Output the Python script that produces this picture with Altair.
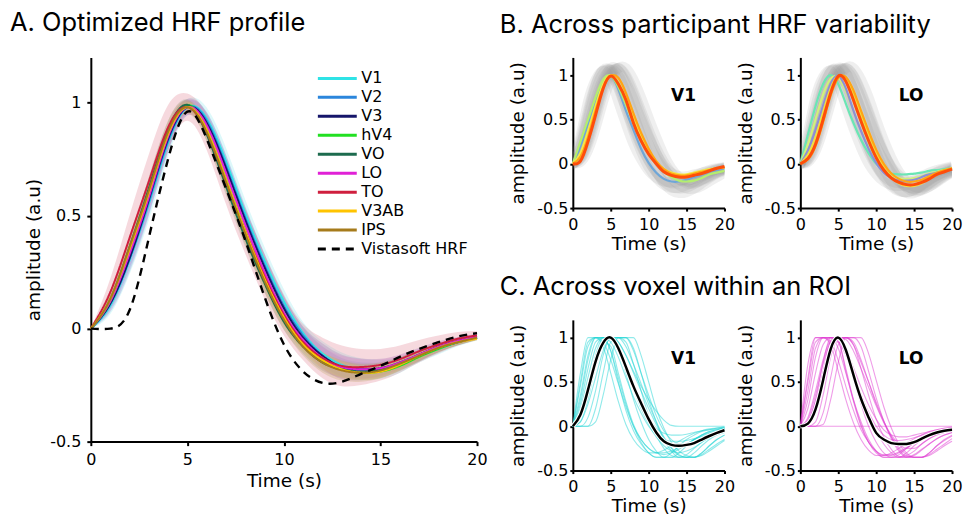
import altair as alt
import pandas as pd

# ---------------- shared time base (s) ----------------
T = list(range(21))
X_TICKS = [0, 5, 10, 15, 20]
Y_TICKS = [-0.5, 0, 0.5, 1]

# ---------------- Panel A : optimized HRF per ROI ----------------
ROI_NAMES = ["V1", "V2", "V3", "hV4", "VO", "LO", "TO", "V3AB", "IPS"]
ROI_COLORS = ["#2fe3e6", "#2b86dc", "#16166a", "#22e022", "#1d6b4e",
              "#e021d6", "#cf1f3e", "#ffc400", "#a67b1b"]
BAND_COLORS = ["#86e6ee", "#7aa8e2", "#8a78c8", "#98e898", "#7aa890",
               "#e890e0", "#e07888", "#f8d870", "#c0a060"]
ROI_SPREAD = [1.2, 0.9, 1.2, 0.8, 0.8, 1.1, 2.0, 0.8, 1.0]
BAND_HW = [0, 0.03, 0.05, 0.06, 0.05, 0.03, 0.04, 0.05, 0.05, 0.05, 0.045,
           0.04, 0.045, 0.045, 0.04, 0.035, 0.03, 0.025, 0.02, 0.015, 0.01]

V1_A = [0, 0.10, 0.30, 0.55, 0.82, 0.98, 0.93, 0.74, 0.51, 0.30, 0.12, -0.02, -0.11, -0.16, -0.18, -0.18, -0.16, -0.12, -0.09, -0.06, -0.04]
V2_A = [0, 0.11, 0.31, 0.56, 0.83, 0.98, 0.92, 0.72, 0.49, 0.28, 0.10, -0.03, -0.12, -0.17, -0.185, -0.18, -0.155, -0.12, -0.085, -0.06, -0.04]
V3_A = [0, 0.11, 0.31, 0.57, 0.84, 0.98, 0.91, 0.71, 0.48, 0.27, 0.09, -0.04, -0.12, -0.17, -0.18, -0.175, -0.15, -0.115, -0.08, -0.055, -0.035]
HV4_A = [0, 0.12, 0.34, 0.60, 0.86, 0.99, 0.88, 0.66, 0.43, 0.22, 0.05, -0.07, -0.14, -0.18, -0.195, -0.19, -0.165, -0.125, -0.09, -0.06, -0.04]
VO_A = [0, 0.13, 0.36, 0.62, 0.88, 0.99, 0.86, 0.63, 0.40, 0.20, 0.03, -0.08, -0.15, -0.18, -0.19, -0.18, -0.155, -0.12, -0.085, -0.06, -0.04]
LO_A = [0, 0.12, 0.33, 0.58, 0.85, 0.98, 0.90, 0.69, 0.46, 0.25, 0.07, -0.05, -0.13, -0.17, -0.18, -0.175, -0.15, -0.115, -0.08, -0.055, -0.035]
TO_A = [0, 0.16, 0.40, 0.65, 0.89, 0.98, 0.87, 0.65, 0.43, 0.23, 0.06, -0.06, -0.13, -0.165, -0.17, -0.16, -0.135, -0.10, -0.07, -0.045, -0.03]
V3AB_A = [0, 0.13, 0.35, 0.60, 0.86, 0.98, 0.88, 0.66, 0.43, 0.22, 0.05, -0.07, -0.14, -0.18, -0.195, -0.19, -0.16, -0.12, -0.085, -0.06, -0.045]
IPS_A = [0, 0.13, 0.36, 0.61, 0.87, 0.98, 0.87, 0.65, 0.42, 0.21, 0.04, -0.08, -0.15, -0.185, -0.195, -0.185, -0.155, -0.12, -0.085, -0.06, -0.04]
ROI_CURVES = [V1_A, V2_A, V3_A, HV4_A, VO_A, LO_A, TO_A, V3AB_A, IPS_A]

VISTA_NAME = "Vistasoft HRF"
VISTA_A = [0, 0.0, 0.08, 0.40, 0.75, 0.96, 0.84, 0.62, 0.39, 0.14, -0.07, -0.19, -0.24, -0.235, -0.20, -0.165, -0.125, -0.09, -0.06, -0.035, -0.02]

# ---------------- Panel B : across participants ----------------
GRAY_V1 = [
    [0, 0.30, 0.70, 0.95, 1.05, 0.95, 0.70, 0.45, 0.22, 0.05, -0.08, -0.16, -0.20, -0.21, -0.20, -0.17, -0.14, -0.10, -0.08, -0.06, -0.05],
    [0, 0.10, 0.35, 0.65, 0.92, 1.08, 1.05, 0.88, 0.65, 0.42, 0.22, 0.06, -0.06, -0.14, -0.18, -0.19, -0.17, -0.14, -0.10, -0.07, -0.05],
    [0, 0.05, 0.22, 0.50, 0.80, 1.00, 1.08, 1.00, 0.82, 0.60, 0.38, 0.18, 0.02, -0.10, -0.18, -0.22, -0.22, -0.19, -0.15, -0.10, -0.07],
    [0, 0.18, 0.50, 0.82, 1.02, 1.06, 0.92, 0.68, 0.44, 0.22, 0.04, -0.10, -0.20, -0.26, -0.28, -0.27, -0.23, -0.18, -0.13, -0.09, -0.06],
    [0, 0.02, 0.15, 0.40, 0.70, 0.95, 1.08, 1.08, 0.95, 0.75, 0.52, 0.30, 0.10, -0.05, -0.15, -0.20, -0.21, -0.18, -0.14, -0.10, -0.07],
    [0, 0.25, 0.60, 0.90, 1.05, 1.02, 0.85, 0.62, 0.40, 0.20, 0.03, -0.10, -0.18, -0.22, -0.22, -0.20, -0.16, -0.12, -0.09, -0.06, -0.04],
    [0, 0.12, 0.40, 0.72, 0.96, 1.06, 1.00, 0.80, 0.56, 0.32, 0.10, -0.08, -0.22, -0.30, -0.33, -0.32, -0.28, -0.22, -0.16, -0.11, -0.08],
    [0, 0.08, 0.30, 0.60, 0.88, 1.05, 1.05, 0.92, 0.72, 0.50, 0.30, 0.12, -0.02, -0.10, -0.14, -0.14, -0.12, -0.10, -0.07, -0.05, -0.04],
    [0, 0.20, 0.55, 0.88, 1.06, 1.05, 0.88, 0.62, 0.36, 0.14, -0.04, -0.16, -0.24, -0.27, -0.27, -0.24, -0.20, -0.15, -0.11, -0.08, -0.06],
    [0, 0.06, 0.26, 0.56, 0.85, 1.02, 1.08, 0.98, 0.78, 0.55, 0.32, 0.12, -0.04, -0.16, -0.24, -0.28, -0.28, -0.25, -0.20, -0.15, -0.10],
]
GRAY_LO = [
    [0, 0.35, 0.75, 0.98, 1.05, 0.90, 0.65, 0.40, 0.18, 0.00, -0.12, -0.20, -0.24, -0.25, -0.24, -0.21, -0.17, -0.13, -0.09, -0.06, -0.04],
    [0, 0.12, 0.38, 0.68, 0.94, 1.08, 1.03, 0.85, 0.62, 0.40, 0.20, 0.04, -0.10, -0.20, -0.26, -0.28, -0.26, -0.22, -0.16, -0.11, -0.07],
    [0, 0.04, 0.20, 0.48, 0.78, 1.00, 1.08, 1.00, 0.82, 0.60, 0.36, 0.14, -0.04, -0.18, -0.27, -0.31, -0.30, -0.26, -0.20, -0.14, -0.09],
    [0, 0.22, 0.55, 0.86, 1.04, 1.04, 0.88, 0.64, 0.40, 0.18, 0.00, -0.14, -0.24, -0.30, -0.32, -0.30, -0.25, -0.19, -0.14, -0.10, -0.07],
    [0, 0.02, 0.14, 0.38, 0.68, 0.94, 1.08, 1.08, 0.95, 0.75, 0.50, 0.27, 0.07, -0.09, -0.20, -0.26, -0.27, -0.24, -0.19, -0.13, -0.09],
    [0, 0.28, 0.65, 0.93, 1.06, 1.00, 0.80, 0.56, 0.33, 0.13, -0.03, -0.14, -0.20, -0.22, -0.21, -0.18, -0.14, -0.10, -0.07, -0.05, -0.03],
    [0, 0.10, 0.36, 0.68, 0.94, 1.06, 1.02, 0.84, 0.60, 0.36, 0.13, -0.06, -0.20, -0.29, -0.33, -0.33, -0.29, -0.23, -0.17, -0.12, -0.08],
    [0, 0.07, 0.28, 0.58, 0.87, 1.05, 1.06, 0.94, 0.74, 0.52, 0.31, 0.12, -0.03, -0.13, -0.18, -0.19, -0.17, -0.14, -0.10, -0.07, -0.05],
    [0, 0.18, 0.50, 0.83, 1.04, 1.06, 0.90, 0.66, 0.40, 0.17, -0.02, -0.16, -0.26, -0.31, -0.32, -0.29, -0.24, -0.18, -0.13, -0.09, -0.06],
    [0, 0.05, 0.24, 0.54, 0.84, 1.02, 1.08, 0.99, 0.80, 0.57, 0.33, 0.12, -0.05, -0.17, -0.25, -0.29, -0.29, -0.26, -0.21, -0.15, -0.10],
]

B_V1_COLORS = ["#6ea6d8", "#b4ee6e", "#f4e84a", "#ffa514", "#ff4d0a"]
B_V1_WIDTHS = [2.2, 2.2, 2.2, 2.2, 3.0]
B_V1_CURVES = [
    [0, 0.20, 0.45, 0.70, 0.92, 0.99, 0.84, 0.60, 0.38, 0.17, 0.01, -0.10, -0.17, -0.20, -0.20, -0.18, -0.15, -0.12, -0.09, -0.07, -0.05],
    [0, 0.25, 0.50, 0.75, 0.95, 0.99, 0.87, 0.67, 0.46, 0.28, 0.12, 0.00, -0.09, -0.15, -0.19, -0.20, -0.19, -0.16, -0.12, -0.10, -0.08],
    [0, 0.12, 0.37, 0.65, 0.90, 1.00, 0.92, 0.74, 0.52, 0.32, 0.15, 0.02, -0.06, -0.10, -0.12, -0.12, -0.10, -0.08, -0.06, -0.05, -0.04],
    [0, 0.08, 0.30, 0.60, 0.86, 0.99, 0.97, 0.80, 0.57, 0.35, 0.17, 0.03, -0.06, -0.11, -0.13, -0.13, -0.11, -0.09, -0.07, -0.05, -0.04],
    [0, 0.03, 0.25, 0.55, 0.85, 0.99, 0.90, 0.72, 0.46, 0.26, 0.11, 0.00, -0.09, -0.13, -0.15, -0.15, -0.13, -0.11, -0.08, -0.05, -0.03],
]
B_LO_COLORS = ["#6ae6b4", "#d2f07a", "#8e8ed6", "#f0e040", "#ffa514", "#ff4d0a"]
B_LO_WIDTHS = [2.2, 2.2, 2.2, 2.2, 2.2, 3.0]
B_LO_CURVES = [
    [0, 0.33, 0.65, 0.90, 1.00, 0.90, 0.68, 0.46, 0.27, 0.12, 0.00, -0.07, -0.11, -0.12, -0.12, -0.11, -0.10, -0.08, -0.07, -0.06, -0.05],
    [0, 0.22, 0.50, 0.78, 0.96, 0.97, 0.82, 0.60, 0.38, 0.19, 0.04, -0.07, -0.13, -0.16, -0.17, -0.16, -0.14, -0.11, -0.09, -0.07, -0.05],
    [0, 0.15, 0.38, 0.65, 0.90, 0.99, 0.85, 0.60, 0.37, 0.17, 0.01, -0.10, -0.16, -0.19, -0.19, -0.18, -0.15, -0.12, -0.10, -0.08, -0.06],
    [0, 0.10, 0.30, 0.58, 0.85, 0.99, 0.95, 0.78, 0.55, 0.32, 0.12, -0.04, -0.15, -0.22, -0.25, -0.25, -0.22, -0.17, -0.12, -0.08, -0.05],
    [0, 0.05, 0.20, 0.47, 0.77, 0.97, 0.98, 0.83, 0.60, 0.37, 0.16, 0.00, -0.11, -0.17, -0.20, -0.20, -0.18, -0.14, -0.10, -0.07, -0.05],
    [0, 0.06, 0.22, 0.50, 0.80, 0.99, 0.93, 0.72, 0.48, 0.26, 0.07, -0.07, -0.16, -0.21, -0.235, -0.235, -0.21, -0.17, -0.12, -0.09, -0.06],
]

# ---------------- Panel C : across voxels ----------------
VOX_V1 = [
    [0, 0.45, 0.90, 1, 1, 0.85, 0.55, 0.25, 0.00, -0.18, -0.30, -0.35, -0.35, -0.35, -0.30, -0.22, -0.15, -0.10, -0.06, -0.04, -0.02],
    [0, 0.60, 1, 1, 1, 1, 0.90, 0.60, 0.30, 0.05, -0.15, -0.28, -0.35, -0.35, -0.35, -0.32, -0.25, -0.18, -0.12, -0.08, -0.05],
    [0, 0, 0, 0.20, 0.60, 0.95, 1, 1, 1, 0.80, 0.50, 0.20, -0.02, -0.18, -0.28, -0.33, -0.35, -0.30, -0.22, -0.15, -0.10],
    [0, 0, 0.10, 0.40, 0.80, 1, 1, 1, 0.85, 0.60, 0.35, 0.12, -0.05, -0.15, -0.20, -0.20, -0.15, -0.10, -0.06, -0.04, -0.02],
    [0, 0.15, 0.45, 0.78, 0.97, 1, 0.88, 0.65, 0.42, 0.20, 0.02, -0.12, -0.22, -0.28, -0.30, -0.28, -0.24, -0.18, -0.13, -0.09, -0.06],
    [0, 0.30, 0.75, 1, 0.90, 0.60, 0.28, 0.02, -0.15, -0.25, -0.30, -0.30, -0.27, -0.22, -0.17, -0.12, -0.08, -0.05, -0.03, -0.02, -0.01],
    [0, 0.10, 0.40, 0.80, 1, 0.85, 0.50, 0.18, -0.05, -0.20, -0.30, -0.35, -0.35, -0.30, -0.22, -0.15, -0.10, -0.06, -0.04, -0.02, -0.01],
    [0, 0.20, 0.55, 0.88, 1, 1, 0.95, 0.80, 0.62, 0.45, 0.30, 0.17, 0.07, 0.01, 0, 0, 0, 0, 0, 0, 0],
    [0, 0.05, 0.25, 0.55, 0.85, 1, 1, 0.90, 0.70, 0.48, 0.25, 0.05, -0.12, -0.25, -0.33, -0.35, -0.35, -0.33, -0.28, -0.22, -0.16],
    [0, 0.50, 0.95, 1, 1, 1, 1, 0.95, 0.70, 0.40, 0.12, -0.10, -0.25, -0.33, -0.35, -0.35, -0.30, -0.22, -0.15, -0.10, -0.07],
    [0, 0.12, 0.42, 0.75, 0.95, 1, 0.90, 0.70, 0.47, 0.27, 0.10, -0.02, -0.08, -0.10, -0.10, -0.09, -0.07, -0.05, -0.04, -0.03, -0.02],
    [0, 0, 0, 0.05, 0.35, 0.75, 1, 1, 0.88, 0.60, 0.30, 0.05, -0.15, -0.28, -0.35, -0.35, -0.35, -0.30, -0.22, -0.15, -0.10],
    [0, 0.35, 0.80, 1, 0.95, 0.75, 0.48, 0.22, 0.00, -0.15, -0.25, -0.30, -0.30, -0.28, -0.24, -0.20, -0.15, -0.11, -0.08, -0.06, -0.04],
    [0, 0.05, 0.30, 0.70, 0.95, 0.90, 0.60, 0.28, 0.02, -0.15, -0.25, -0.30, -0.32, -0.30, -0.26, -0.20, -0.15, -0.10, -0.07, -0.05, -0.03],
    [0, 0.25, 0.65, 0.95, 1, 0.95, 0.78, 0.55, 0.33, 0.15, 0.00, -0.10, -0.15, -0.17, -0.17, -0.16, -0.14, -0.12, -0.10, -0.08, -0.06],
    [0, 0.10, 0.35, 0.68, 0.92, 1, 0.95, 0.80, 0.60, 0.40, 0.20, 0.02, -0.13, -0.24, -0.32, -0.35, -0.35, -0.32, -0.26, -0.20, -0.15],
]
VOX_LO = [
    [0, 0.50, 0.95, 1, 1, 0.88, 0.60, 0.30, 0.05, -0.15, -0.28, -0.35, -0.35, -0.35, -0.30, -0.22, -0.15, -0.10, -0.06, -0.04, -0.02],
    [0, 0.70, 1, 1, 1, 1, 0.85, 0.55, 0.25, 0.00, -0.18, -0.30, -0.35, -0.35, -0.33, -0.28, -0.20, -0.14, -0.10, -0.07, -0.05],
    [0, 0, 0, 0.15, 0.55, 0.92, 1, 1, 1, 0.82, 0.52, 0.22, -0.02, -0.20, -0.30, -0.35, -0.35, -0.30, -0.22, -0.15, -0.10],
    [0, 0, 0.05, 0.35, 0.78, 1, 1, 0.95, 0.75, 0.50, 0.25, 0.05, -0.10, -0.20, -0.25, -0.25, -0.20, -0.14, -0.09, -0.06, -0.04],
    [0, 0.10, 0.40, 0.75, 0.97, 1, 0.85, 0.60, 0.35, 0.12, -0.06, -0.20, -0.30, -0.35, -0.35, -0.32, -0.26, -0.20, -0.14, -0.10, -0.07],
    [0, 0.30, 0.78, 1, 0.92, 0.62, 0.30, 0.04, -0.15, -0.27, -0.33, -0.33, -0.30, -0.25, -0.19, -0.14, -0.10, -0.06, -0.04, -0.02, -0.01],
    [0, 0.05, 0.30, 0.72, 1, 0.95, 0.65, 0.30, 0.02, -0.18, -0.30, -0.35, -0.35, -0.32, -0.25, -0.18, -0.12, -0.08, -0.05, -0.03, -0.02],
    [0, 0, 0, 0, 0, 0, 0, 0, 0, 0, 0, 0, 0, 0, 0, 0, 0, 0, 0, 0, 0],
    [0, 0.04, 0.20, 0.50, 0.82, 1, 1, 0.92, 0.72, 0.50, 0.27, 0.06, -0.12, -0.26, -0.34, -0.35, -0.35, -0.32, -0.26, -0.20, -0.14],
    [0, 0.55, 1, 1, 1, 1, 1, 0.92, 0.65, 0.35, 0.08, -0.12, -0.26, -0.34, -0.35, -0.33, -0.27, -0.20, -0.14, -0.10, -0.07],
    [0, 0.08, 0.35, 0.70, 0.95, 1, 0.88, 0.66, 0.44, 0.24, 0.08, -0.04, -0.10, -0.12, -0.12, -0.10, -0.08, -0.06, -0.04, -0.03, -0.02],
    [0, 0, 0, 0.02, 0.30, 0.72, 1, 1, 0.90, 0.62, 0.32, 0.06, -0.14, -0.28, -0.35, -0.35, -0.35, -0.30, -0.22, -0.16, -0.11],
    [0, 0.40, 0.88, 1, 0.96, 0.74, 0.45, 0.18, -0.04, -0.18, -0.28, -0.32, -0.32, -0.29, -0.24, -0.19, -0.14, -0.10, -0.07, -0.05, -0.03],
    [0, 0.02, 0.22, 0.62, 0.95, 0.95, 0.62, 0.28, 0.00, -0.18, -0.28, -0.33, -0.33, -0.30, -0.25, -0.19, -0.14, -0.10, -0.07, -0.05, -0.03],
    [0, 0.20, 0.60, 0.92, 1, 0.96, 0.80, 0.58, 0.36, 0.16, 0.00, -0.10, -0.15, -0.16, -0.15, -0.13, -0.10, -0.07, -0.05, -0.03, -0.02],
    [0, 0.06, 0.28, 0.60, 0.88, 1, 0.98, 0.85, 0.65, 0.44, 0.23, 0.04, -0.12, -0.24, -0.32, -0.35, -0.35, -0.33, -0.28, -0.22, -0.17],
]
MEAN_V1 = [0, 0.13, 0.41, 0.73, 0.94, 1.0, 0.88, 0.67, 0.45, 0.26, 0.08, -0.07, -0.17, -0.21, -0.22, -0.21, -0.19, -0.15, -0.11, -0.075, -0.045]
MEAN_LO = [0, 0.03, 0.19, 0.52, 0.87, 1.0, 0.86, 0.58, 0.31, 0.10, -0.075, -0.15, -0.19, -0.20, -0.20, -0.18, -0.14, -0.10, -0.07, -0.05, -0.04]
VOX_COLOR_V1 = "#22d6d6"
VOX_COLOR_LO = "#e03ad2"

PANEL_LABEL_T = 14.6
PANEL_LABEL_V = 0.76

# ---------------- helpers ----------------
FONT = "DejaVu Sans"
TITLE_FONT = "Inter"
TITLE_SIZE = 25.5
LABEL_SIZE = 16
AXTITLE_SIZE = 18.5


def long_df(curves, ids, **extra):
    rows = []
    for k, (cid, vals) in enumerate(zip(ids, curves)):
        for t, v in zip(T, vals):
            r = {"t": t, "v": v, "id": cid}
            for key, lst in extra.items():
                r[key] = lst[k]
            rows.append(r)
    return pd.DataFrame(rows)


def axis_common():
    return dict(labelFont=FONT, labelFontSize=LABEL_SIZE, labelColor="black",
                titleFont=FONT, titleFontSize=AXTITLE_SIZE, titleFontWeight="normal",
                titleColor="black", domainColor="black", domainWidth=2,
                tickColor="black", tickWidth=2, grid=False)


def x_enc(small):
    return alt.X("t:Q", scale=alt.Scale(domain=[0, 20], nice=False, zero=False),
                 axis=alt.Axis(values=X_TICKS, title="Time (s)", labelFlush=False,
                               tickSize=3 if small else 4,
                               labelPadding=5 if small else 6,
                               titlePadding=2 if small else 4, **axis_common()))


def y_enc(small, field="v"):
    return alt.Y(f"{field}:Q", scale=alt.Scale(domain=[-0.5, 1.2], nice=False, zero=False),
                 axis=alt.Axis(values=Y_TICKS, title="amplitude (a.u)",
                               labelExpr="'' + datum.value",
                               tickSize=3 if small else 4,
                               labelPadding=2 if small else 6,
                               titlePadding=9 if small else 6, **axis_common()))


# ---------------- Panel A ----------------
band_rows = []
for name, vals, spread, bc in zip(ROI_NAMES, ROI_CURVES, ROI_SPREAD, BAND_COLORS):
    for t, v, hw in zip(T, vals, BAND_HW):
        band_rows.append({"t": t, "lo": v - hw * spread, "hi": v + hw * spread,
                          "roi": name, "bc": bc})
band_df = pd.DataFrame(band_rows)

roi_df = long_df(ROI_CURVES, ROI_NAMES).rename(columns={"id": "roi"})
vista_df = long_df([VISTA_A], [VISTA_NAME]).rename(columns={"id": "roi"})

ALL_NAMES = ROI_NAMES + [VISTA_NAME]
ALL_COLORS = ROI_COLORS + ["#000000"]
ALL_DASHES = [[1, 0]] * len(ROI_NAMES) + [[8, 6]]

leg = alt.Legend(title=None, orient="none", legendX=239, legendY=13,
                 symbolType="M-4,0L4,0", symbolSize=95, symbolStrokeWidth=3,
                 symbolOpacity=1,
                 labelFont=FONT, labelFontSize=16, labelColor="black",
                 labelOffset=16, rowPadding=3, padding=0, symbolLimit=0)

color_enc = alt.Color("roi:N", scale=alt.Scale(domain=ALL_NAMES, range=ALL_COLORS), legend=leg)
dash_enc = alt.StrokeDash("roi:N", scale=alt.Scale(domain=ALL_NAMES, range=ALL_DASHES), legend=leg)

a_bands = alt.Chart(band_df).mark_area(fillOpacity=0.28, interpolate="natural").encode(
    x=x_enc(False), y=y_enc(False, "lo"), y2="hi:Q",
    color=alt.Color("bc:N", scale=None), detail="roi:N")
a_lines = alt.Chart(roi_df).mark_line(strokeWidth=2, interpolate="natural").encode(
    x=x_enc(False), y=y_enc(False), color=color_enc, strokeDash=dash_enc)
a_vista = alt.Chart(vista_df).mark_line(strokeWidth=2.4, interpolate="natural").encode(
    x=x_enc(False), y=y_enc(False), color=color_enc, strokeDash=dash_enc)

panel_a = alt.layer(a_bands, a_lines, a_vista).properties(
    width=387, height=385,
    title=alt.TitleParams("A. Optimized HRF profile", anchor="start", frame="group",
                          dx=-81, offset=21, font=TITLE_FONT, fontSize=TITLE_SIZE,
                          fontWeight="normal", color="black"))


# ---------------- Panel B ----------------
def panel_b(gray, curves, colors, widths, label):
    gdf = long_df(gray, list(range(len(gray))))
    cdf = long_df(curves, list(range(len(curves))), col=colors, w=widths)
    g = alt.Chart(gdf).mark_line(color="#8c8c8c", opacity=0.14, strokeWidth=10,
                                 interpolate="natural", clip=True).encode(
        x=x_enc(True), y=y_enc(True), detail="id:N")
    c = alt.Chart(cdf).mark_line(interpolate="natural").encode(
        x=x_enc(True), y=y_enc(True), detail="id:N",
        color=alt.Color("col:N", scale=None),
        strokeWidth=alt.StrokeWidth("w:Q", scale=None))
    txt = alt.Chart(pd.DataFrame({"t": [PANEL_LABEL_T], "v": [PANEL_LABEL_V], "s": [label]})).mark_text(
        font=FONT, fontSize=17, fontWeight="bold", color="black").encode(
        x=x_enc(True), y=y_enc(True), text="s:N")
    return alt.layer(g, c, txt).properties(width=152, height=151)


# ---------------- Panel C ----------------
def panel_c(vox, mean, color, label):
    vdf = long_df(vox, list(range(len(vox))))
    mdf = long_df([mean], [0])
    v = alt.Chart(vdf).mark_line(color=color, opacity=0.5, strokeWidth=1.1,
                                 interpolate="monotone").encode(
        x=x_enc(True), y=y_enc(True), detail="id:N")
    halo = alt.Chart(mdf).mark_line(color="white", strokeWidth=4.5, interpolate="natural").encode(
        x=x_enc(True), y=y_enc(True))
    m = alt.Chart(mdf).mark_line(color="black", strokeWidth=2.5, interpolate="natural").encode(
        x=x_enc(True), y=y_enc(True))
    txt = alt.Chart(pd.DataFrame({"t": [PANEL_LABEL_T], "v": [PANEL_LABEL_V], "s": [label]})).mark_text(
        font=FONT, fontSize=17, fontWeight="bold", color="black").encode(
        x=x_enc(True), y=y_enc(True), text="s:N")
    return alt.layer(v, halo, m, txt).properties(width=152, height=151)


b_row = alt.hconcat(
    panel_b(GRAY_V1, B_V1_CURVES, B_V1_COLORS, B_V1_WIDTHS, "V1"),
    panel_b(GRAY_LO, B_LO_CURVES, B_LO_COLORS, B_LO_WIDTHS, "LO"),
    spacing=0,
    title=alt.TitleParams("B. Across participant HRF variability", anchor="start",
                          offset=19, dx=-9, font=TITLE_FONT, fontSize=TITLE_SIZE,
                          fontWeight="normal", color="black"))
c_row = alt.hconcat(
    panel_c(VOX_V1, MEAN_V1, VOX_COLOR_V1, "V1"),
    panel_c(VOX_LO, MEAN_LO, VOX_COLOR_LO, "LO"),
    spacing=0,
    title=alt.TitleParams("C. Across voxel within an ROI", anchor="start",
                          offset=19, dx=-9, font=TITLE_FONT, fontSize=TITLE_SIZE,
                          fontWeight="normal", color="black"))

right = alt.vconcat(b_row, c_row, spacing=22)

chart = alt.hconcat(panel_a, right, spacing=11).properties(
    padding={"left": 2, "top": 2, "right": 0, "bottom": 0}
).configure_view(stroke=None)

chart.save("out.html", embed_options={"renderer": "svg", "actions": False})
